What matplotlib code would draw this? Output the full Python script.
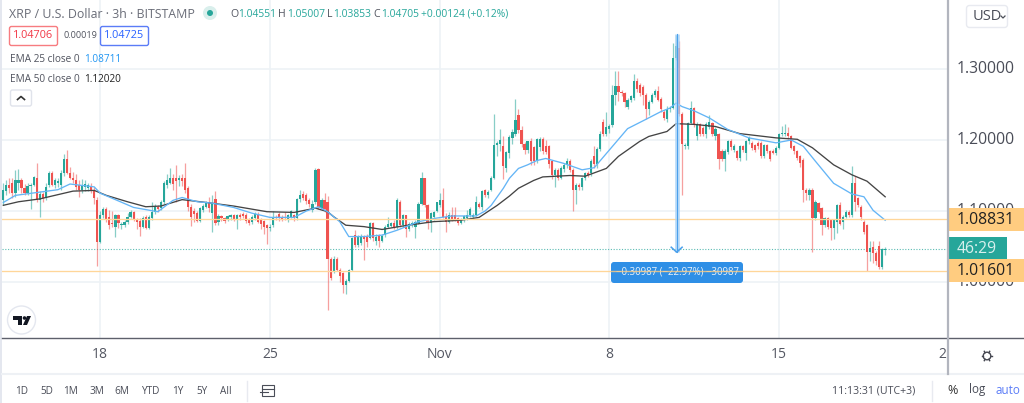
import matplotlib
matplotlib.use('Agg')
import matplotlib.pyplot as plt
from matplotlib.patches import FancyBboxPatch, Rectangle, Circle, Polygon
import numpy as np

plt.rcParams['font.family'] = ['Open Sans', 'DejaVu Sans']

# Velas de 3h
opens = [
    1.115,1.128,1.137,1.139,1.125,1.139,1.144,1.133,1.126,1.135,
    1.137,1.147,1.115,1.124,1.118,1.136,1.153,1.136,1.139,1.136,
    1.153,1.173,1.153,1.146,1.144,1.136,1.130,1.134,1.132,1.135,
    1.128,1.115,1.057,1.095,1.103,1.092,1.083,1.078,1.094,1.080,
    1.080,1.084,1.092,1.098,1.089,1.086,1.078,1.092,1.076,1.090,
    1.098,1.105,1.104,1.112,1.136,1.140,1.147,1.147,1.143,1.147,
    1.147,1.133,1.105,1.100,1.097,1.086,1.101,1.106,1.113,1.097,
    1.117,1.085,1.093,1.090,1.088,1.091,1.094,1.088,1.094,1.096,
    1.094,1.088,1.084,1.090,1.096,1.088,1.086,1.080,1.076,1.080,
    1.092,1.096,1.092,1.092,1.088,1.092,1.094,1.090,1.117,1.124,
    1.122,1.116,1.102,1.112,1.159,1.104,1.116,1.113,1.033,1.015,
    1.033,1.017,1.012,0.996,1.002,1.017,1.066,1.052,1.055,1.064,
    1.064,1.062,1.083,1.058,1.065,1.058,1.066,1.078,1.079,1.083,
    1.078,1.113,1.080,1.094,1.075,1.080,1.078,1.083,1.110,1.146,
    1.108,1.083,1.092,1.100,1.108,1.115,1.092,1.085,1.094,1.094,
    1.090,1.083,1.087,1.090,1.094,1.092,1.095,1.110,1.106,1.130,
    1.122,1.130,1.147,1.193,1.195,1.192,1.161,1.181,1.203,1.209,
    1.235,1.214,1.195,1.186,1.198,1.190,1.170,1.190,1.202,1.192,
    1.192,1.170,1.151,1.158,1.147,1.159,1.165,1.171,1.158,1.130,
    1.137,1.134,1.146,1.153,1.153,1.178,1.166,1.188,1.225,1.208,
    1.215,1.221,1.264,1.276,1.268,1.266,1.247,1.257,1.259,1.283,
    1.277,1.275,1.264,1.243,1.254,1.263,1.269,1.258,1.240,1.229,
    1.243,1.245,1.315,1.330,1.236,1.191,1.191,1.224,1.245,1.205,
    1.222,1.217,1.208,1.218,1.224,1.205,1.208,1.185,1.173,1.183,
    1.199,1.186,1.184,1.175,1.191,1.182,1.198,1.196,1.193,1.196,
    1.196,1.177,1.193,1.184,1.185,1.182,1.189,1.208,1.208,1.210,
    1.205,1.191,1.184,1.177,1.172,1.130,1.123,1.130,1.090,1.111,
    1.104,1.080,1.090,1.087,1.076,1.085,1.108,1.085,1.092,1.099,
    1.094,1.139,1.118,1.106,1.085,1.080,1.042,1.050,1.041,1.050,
    1.021,1.0455]
closes = [
    1.130,1.137,1.132,1.125,1.143,1.144,1.133,1.126,1.135,1.137,
    1.148,1.115,1.124,1.118,1.134,1.153,1.136,1.143,1.142,1.153,
    1.173,1.153,1.146,1.144,1.134,1.129,1.137,1.138,1.136,1.128,
    1.118,1.057,1.094,1.103,1.088,1.080,1.081,1.094,1.083,1.082,
    1.084,1.092,1.098,1.088,1.084,1.077,1.090,1.076,1.092,1.098,
    1.106,1.103,1.112,1.140,1.143,1.146,1.138,1.142,1.147,1.142,
    1.130,1.105,1.092,1.096,1.086,1.104,1.107,1.112,1.104,1.111,
    1.083,1.093,1.090,1.086,1.093,1.094,1.089,1.094,1.092,1.093,
    1.086,1.083,1.091,1.096,1.085,1.082,1.077,1.076,1.078,1.091,
    1.091,1.090,1.088,1.090,1.094,1.100,1.090,1.117,1.123,1.118,
    1.114,1.110,1.110,1.158,1.106,1.116,1.103,1.033,1.005,1.033,
    1.017,1.008,0.996,1.002,1.017,1.062,1.052,1.064,1.065,1.060,
    1.057,1.083,1.062,1.064,1.058,1.065,1.078,1.082,1.083,1.077,
    1.116,1.080,1.094,1.075,1.082,1.083,1.085,1.110,1.146,1.108,
    1.083,1.097,1.098,1.112,1.115,1.092,1.085,1.094,1.088,1.088,
    1.083,1.088,1.093,1.095,1.103,1.095,1.112,1.106,1.128,1.122,
    1.127,1.147,1.193,1.196,1.200,1.163,1.183,1.204,1.211,1.228,
    1.214,1.195,1.186,1.198,1.170,1.170,1.202,1.202,1.185,1.183,
    1.166,1.151,1.158,1.147,1.161,1.165,1.171,1.158,1.130,1.137,
    1.134,1.146,1.153,1.151,1.171,1.166,1.188,1.209,1.208,1.218,
    1.220,1.263,1.276,1.268,1.266,1.254,1.257,1.262,1.283,1.272,
    1.266,1.264,1.243,1.254,1.264,1.269,1.257,1.243,1.231,1.243,
    1.245,1.315,1.332,1.236,1.194,1.193,1.224,1.245,1.222,1.222,
    1.208,1.208,1.222,1.225,1.208,1.216,1.173,1.173,1.185,1.198,
    1.190,1.192,1.175,1.191,1.186,1.198,1.203,1.189,1.186,1.191,
    1.177,1.193,1.184,1.173,1.182,1.189,1.208,1.210,1.210,1.205,
    1.189,1.184,1.175,1.168,1.130,1.125,1.130,1.090,1.113,1.099,
    1.080,1.090,1.078,1.076,1.087,1.108,1.082,1.092,1.099,1.094,
    1.139,1.113,1.108,1.092,1.071,1.042,1.048,1.041,1.030,1.021,
    1.046,1.047]
highs = [
    1.139,1.143,1.146,1.146,1.158,1.159,1.146,1.138,1.140,1.139,
    1.150,1.167,1.128,1.127,1.140,1.156,1.156,1.146,1.147,1.158,
    1.180,1.186,1.162,1.155,1.152,1.143,1.145,1.143,1.140,1.140,
    1.134,1.120,1.100,1.106,1.106,1.102,1.100,1.096,1.096,1.084,
    1.088,1.097,1.102,1.100,1.090,1.090,1.093,1.094,1.094,1.112,
    1.110,1.108,1.116,1.142,1.152,1.160,1.152,1.165,1.151,1.152,
    1.167,1.135,1.110,1.104,1.100,1.106,1.110,1.114,1.120,1.122,
    1.128,1.096,1.095,1.092,1.095,1.096,1.096,1.096,1.097,1.098,
    1.097,1.090,1.094,1.098,1.098,1.090,1.088,1.082,1.082,1.100,
    1.095,1.098,1.094,1.098,1.096,1.102,1.096,1.119,1.130,1.128,
    1.125,1.119,1.115,1.160,1.160,1.118,1.125,1.121,1.035,1.036,
    1.035,1.020,1.014,1.004,1.018,1.064,1.073,1.066,1.068,1.066,
    1.067,1.085,1.085,1.067,1.067,1.067,1.080,1.091,1.085,1.087,
    1.118,1.115,1.096,1.095,1.084,1.086,1.088,1.113,1.155,1.147,
    1.110,1.099,1.100,1.113,1.126,1.132,1.097,1.098,1.105,1.105,
    1.092,1.090,1.095,1.102,1.105,1.097,1.121,1.112,1.130,1.131,
    1.129,1.149,1.236,1.198,1.215,1.205,1.185,1.207,1.216,1.258,
    1.243,1.220,1.197,1.199,1.203,1.192,1.203,1.204,1.204,1.200,
    1.193,1.172,1.160,1.160,1.163,1.168,1.174,1.173,1.160,1.139,
    1.139,1.148,1.155,1.156,1.173,1.192,1.190,1.212,1.230,1.240,
    1.222,1.278,1.297,1.297,1.270,1.268,1.259,1.264,1.293,1.288,
    1.280,1.277,1.266,1.256,1.266,1.272,1.276,1.260,1.242,1.248,
    1.248,1.337,1.348,1.340,1.240,1.196,1.226,1.255,1.247,1.225,
    1.224,1.220,1.226,1.235,1.226,1.218,1.210,1.187,1.187,1.200,
    1.201,1.194,1.186,1.193,1.193,1.200,1.206,1.198,1.195,1.198,
    1.198,1.195,1.195,1.186,1.187,1.191,1.210,1.220,1.222,1.219,
    1.207,1.193,1.186,1.179,1.174,1.132,1.133,1.132,1.115,1.113,
    1.106,1.092,1.092,1.089,1.089,1.110,1.113,1.094,1.101,1.101,
    1.163,1.149,1.120,1.108,1.087,1.082,1.058,1.058,1.043,1.058,
    1.048,1.050]
lows = [
    1.108,1.122,1.125,1.118,1.120,1.130,1.125,1.122,1.122,1.103,
    1.135,1.113,1.092,1.112,1.116,1.134,1.135,1.133,1.134,1.130,
    1.150,1.152,1.145,1.140,1.130,1.120,1.126,1.128,1.128,1.125,
    1.110,1.022,1.055,1.090,1.084,1.074,1.077,1.064,1.076,1.075,
    1.078,1.082,1.090,1.086,1.075,1.065,1.076,1.074,1.074,1.088,
    1.096,1.098,1.102,1.110,1.133,1.138,1.130,1.112,1.135,1.135,
    1.125,1.100,1.079,1.085,1.084,1.084,1.098,1.104,1.098,1.071,
    1.080,1.080,1.086,1.083,1.086,1.088,1.086,1.075,1.088,1.090,
    1.083,1.080,1.082,1.088,1.083,1.074,1.068,1.054,1.072,1.078,
    1.088,1.086,1.086,1.088,1.085,1.090,1.086,1.088,1.113,1.116,
    1.110,1.106,1.098,1.110,1.103,1.102,1.098,0.961,1.003,1.012,
    1.015,1.000,0.985,0.983,1.000,1.015,1.050,1.050,1.052,1.031,
    1.050,1.060,1.058,1.052,1.050,1.056,1.064,1.076,1.077,1.074,
    1.075,1.078,1.078,1.064,1.072,1.078,1.062,1.081,1.108,1.105,
    1.075,1.070,1.088,1.098,1.105,1.090,1.071,1.083,1.086,1.086,
    1.080,1.081,1.085,1.088,1.092,1.090,1.093,1.104,1.102,1.120,
    1.118,1.128,1.145,1.178,1.185,1.145,1.155,1.175,1.195,1.205,
    1.210,1.190,1.180,1.182,1.165,1.165,1.168,1.185,1.180,1.180,
    1.160,1.145,1.134,1.143,1.145,1.155,1.160,1.155,1.100,1.110,
    1.130,1.130,1.144,1.148,1.150,1.160,1.160,1.185,1.205,1.205,
    1.210,1.218,1.250,1.255,1.262,1.247,1.243,1.254,1.256,1.268,
    1.262,1.250,1.229,1.235,1.252,1.261,1.255,1.240,1.228,1.226,
    1.240,1.243,1.312,1.234,1.122,1.188,1.188,1.222,1.218,1.200,
    1.205,1.205,1.203,1.215,1.205,1.200,1.159,1.170,1.156,1.180,
    1.186,1.183,1.172,1.171,1.183,1.172,1.195,1.186,1.183,1.188,
    1.174,1.175,1.181,1.170,1.180,1.179,1.187,1.205,1.205,1.202,
    1.187,1.180,1.172,1.162,1.113,1.115,1.115,1.042,1.088,1.097,
    1.066,1.078,1.074,1.059,1.060,1.069,1.080,1.075,1.090,1.092,
    1.092,1.100,1.105,1.088,1.067,1.016,1.030,1.027,1.024,1.019,
    1.018,1.0385]

# Medias moviles, leidas cada pocas velas
ema25_bars = [0,4,11,18,22,30,32,37,43,51,56,59,64,69,76,82,88,96,100,104,107,111,114,119,125,
              130,137,143,148,156,159,161,165,167,170,173,176,179,185,191,195,200,206,212,217,220,222,224,
              228,233,239,246,255,260,264,268,274,280,284,287,291]
ema25_vals = [1.112,1.122,1.126,1.130,1.138,1.134,1.125,1.116,1.105,1.099,1.115,1.119,1.113,1.111,1.105,
              1.097,1.091,1.091,1.100,1.106,1.099,1.085,1.064,1.064,1.066,1.073,1.085,1.090,1.093,1.093,
              1.100,1.108,1.132,1.146,1.160,1.165,1.171,1.174,1.167,1.158,1.161,1.186,1.216,1.229,1.240,1.245,1.252,1.247,
              1.241,1.231,1.215,1.203,1.196,1.200,1.191,1.170,1.139,1.124,1.120,1.101,1.087]
ema50_bars = [0,5,12,19,23,30,34,41,47,52,59,67,76,87,96,103,107,109,113,119,125,132,142,151,157,
              163,167,170,175,178,187,192,199,203,210,213,219,222,228,235,243,255,262,267,274,280,285,291]
ema50_vals = [1.108,1.113,1.117,1.124,1.128,1.129,1.122,1.113,1.106,1.107,1.116,1.112,1.107,1.099,1.098,
              1.104,1.099,1.092,1.080,1.078,1.074,1.079,1.085,1.087,1.091,1.108,1.121,1.132,1.143,1.148,1.150,1.149,
              1.160,1.177,1.198,1.205,1.212,1.223,1.222,1.219,1.209,1.203,1.201,1.189,1.165,1.151,1.142,1.120]

price_ticks = [1.0, 1.1, 1.2, 1.3]
price_labels = ['1.00000', '1.10000', '1.20000', '1.30000']
date_bars = [32, 88, 144, 200, 256]
date_labels = ['18', '25', 'Nov', '8', '15']
range_labels = ['1D', '5D', '1M', '3M', '6M', 'YTD', '1Y', '5Y', 'All']
range_x = [22, 46.5, 71, 96.5, 122, 150, 178, 202, 226]
line_up = 1.08831
line_down = 1.01601
last_close = 1.04705
measure_top = 1.349
measure_bottom = 1.042

GREEN = '#26a69a'
RED = '#ef5350'
GREY = '#50535e'
ORANGE = '#ffd699'
GRID = '#edf2f6'
BLUE = '#64b5f6'

W, H = 1024, 403
fig = plt.figure(figsize=(W / 100, H / 100), dpi=100, facecolor='white')

# Panel principal: 3.03 px por vela, 710 px por dolar
ax = fig.add_axes([2 / W, 1 - 338 / H, 945 / W, 338 / H])
ax.set_xlim(-0.43, 311.4)
ax.set_ylim(1 - 56 / 710, 1 + 282 / 710)
ax.axis('off')

for t in price_ticks:
    ax.axhline(t, color=GRID, lw=1.2, zorder=1)
for b in date_bars:
    ax.axvline(b, color=GRID, lw=1.2, zorder=1)

ax.axhline(last_close, color=GREEN, lw=0.8, ls=(0, (1, 1.5)), alpha=0.75, zorder=2)

x = np.arange(len(closes))
o = np.array(opens)
c = np.array(closes)
up = c >= o
colors = np.where(up, GREEN, RED)
ax.vlines(x, lows, highs, colors=colors, lw=0.9, alpha=0.55, zorder=3)
ax.bar(x, np.abs(c - o), bottom=np.minimum(o, c), width=0.72, color=colors, lw=0, zorder=4)

ax.plot(ema50_bars, ema50_vals, color='#444444', lw=0.95, zorder=5)
ax.plot(ema25_bars, ema25_vals, color=BLUE, lw=0.95, zorder=5)

ax.axhline(line_up, color=ORANGE, lw=0.95, zorder=6)
ax.axhline(line_down, color=ORANGE, lw=0.95, zorder=6)

# Flecha de medicion
ax.plot([222.2, 222.2], [measure_top, measure_bottom], color='#a9d3f7', lw=3.4, alpha=0.8, solid_capstyle='butt', zorder=7)
ax.plot([222.2, 222.2], [measure_top, measure_bottom], color='#4aa0ec', lw=0.8, zorder=7)
ax.plot([220.4, 222.2, 224.0], [measure_bottom + 0.007, measure_bottom, measure_bottom + 0.007], color='#4aa0ec', lw=1.1, zorder=7)

# Capa en pixeles para la interfaz
ui = fig.add_axes([0, 0, 1, 1], facecolor='none')
ui.set_xlim(0, W)
ui.set_ylim(H, 0)
ui.axis('off')


def label(px, py, s, color=GREY, size=9, ha='left', zorder=5):
    ui.text(px, py, s, color=color, fontsize=size, ha=ha, va='center', zorder=zorder)


def box(x0, y0, w, h, fc='white', ec='none', lw=1, r=2, zorder=4):
    ui.add_patch(FancyBboxPatch((x0 + r, y0 + r), w - 2 * r, h - 2 * r, boxstyle=f'round,pad={r},rounding_size={r}',
                                fc=fc, ec=ec, lw=lw, zorder=zorder))


# Bordes y paneles
ui.add_patch(Rectangle((948, 0), 76, 338, fc='white', ec='none', zorder=1))
ui.add_patch(Rectangle((0, 0), 2, H, fc='#e4e7ef', ec='none', zorder=1))
ui.plot([2, 1024], [338, 338], color='#5d606b', lw=1, zorder=2)
ui.plot([2, 1024], [374, 374], color='#eef1f5', lw=1.5, zorder=2)
ui.plot([947.5, 947.5], [0, 374], color='#b2b5be', lw=1.6, zorder=8)

# Encabezado
label(9, 14, 'XRP / U.S. Dollar · 3h · BITSTAMP', color='#6a6d78', size=8.9)
ui.add_patch(Circle((210, 13), 7, fc='#d9efec', ec='none'))
ui.add_patch(Circle((210, 13), 3, fc=GREEN, ec='none'))
for px, s in [(230, 'O'), (278, 'H'), (327, 'L'), (373, 'C')]:
    label(px, 14.5, s, size=7.6)
for px, s in [(238, '1.04551'), (287, '1.05007'), (333, '1.03853'), (381, '1.04705'), (421, '+0.00124 (+0.12%)')]:
    label(px, 14.5, s, color=GREEN, size=7.4)

box(9.5, 26.5, 48, 19, ec='#f77c80')
label(33.5, 36, '1.04706', color='#f23645', size=7.8, ha='center')
label(64, 36, '0.00019', size=6.5)
box(100.5, 26.5, 48, 19, ec='#5b7cf7')
label(124.5, 36, '1.04725', color='#2962ff', size=7.8, ha='center')
label(10, 59, 'EMA 25 close 0', size=7.2)
label(84, 59, '1.08711', color='#2196f3', size=7.2)
label(10, 79, 'EMA 50 close 0', size=7.2)
label(84, 79, '1.12020', color='#222222', size=7.2)
box(10.5, 90, 21, 16, ec='#e0e3eb')
ui.plot([17.5, 21, 24.5], [99.5, 96.5, 99.5], color='#333333', lw=1.2, zorder=5)

# Logo
ui.add_patch(Circle((21.5, 320), 14, fc='white', ec='#e4e7ef', lw=1, zorder=3))
ui.add_patch(Polygon([[13, 316], [22, 316], [22, 325], [18, 325], [18, 319.5], [13, 319.5]], fc='#131722', ec='none', zorder=4))
ui.add_patch(Circle((24.5, 318), 1.8, fc='#131722', ec='none', zorder=4))
ui.add_patch(Polygon([[27, 316], [31, 316], [27, 325], [23, 325]], fc='#131722', ec='none', zorder=4))

# Eje de precios: las cajas tapan 1.00000 y 1.10000 como en la captura
for t, s in zip(price_ticks, price_labels):
    py = 282 - (t - 1) * 710
    label(986, py, s, color='#4a4d58', size=11.3, ha='center', zorder=3)

box(966.5, 5.5, 41, 22, ec='#e8eaf0', r=3)
label(973, 17, 'USD', color='#4a4d58', size=10.5)
ui.plot([1001, 1003, 1005], [16, 18, 16], color='#4a4d58', lw=0.9, zorder=5)

ui.add_patch(Rectangle((948, 208), 76, 23, fc='#ffcc80', ec='none', zorder=4))
label(986, 220, '1.08831', color='#222222', size=11.3, ha='center')
ui.add_patch(Rectangle((948, 237), 59, 23, fc=GREEN, ec='none', zorder=4))
label(977, 249, '46:29', color='#d8f0ed', size=11.3, ha='center')
ui.add_patch(Rectangle((948, 259), 76, 23, fc='#ffcc80', ec='none', zorder=4))
label(986, 271, '1.01601', color='#222222', size=11.3, ha='center')

box(611, 262, 132, 21, fc='#2f8fe6', r=3)
label(677, 271.5, '−0.30987 (−22.97%) −30987', color='#e8f3fd', size=6.9, ha='center')
ui.plot([611, 743], [270.6, 270.6], color='#ffcc80', lw=1, alpha=0.8, zorder=6)

# Eje de fechas
for b, s in zip(date_bars, date_labels):
    label(3.3 + 3.03 * b, 354, s, color='#555863', size=10, ha='center')
label(946, 354, '2', color='#555863', size=10, ha='right')

# Engranaje
ui.add_patch(Circle((987, 356), 3.8, fc='none', ec='#444650', lw=1))
for a in np.arange(0, 360, 60):
    r = np.radians(a)
    ui.plot([987 + 3.8 * np.cos(r), 987 + 5.4 * np.cos(r)], [356 + 3.8 * np.sin(r), 356 + 5.4 * np.sin(r)], color='#444650', lw=1)

# Barra inferior
for px, s in zip(range_x, range_labels):
    label(px, 391, s, color='#4a4d58', size=7.2, ha='center')
ui.plot([247, 247], [381, 401], color='#e8eaf0', lw=1)
ui.add_patch(Rectangle((262, 385), 12, 11, fc='none', ec='#4a4d58', lw=0.8))
ui.plot([262, 274], [388.5, 388.5], color='#4a4d58', lw=0.8)
ui.plot([260, 268], [392, 392], color='#4a4d58', lw=0.8)

label(832, 391, '11:13:31 (UTC+3)', color='#4a4d58', size=7.6)
ui.plot([932, 932], [381, 401], color='#e8eaf0', lw=1)
label(947, 390, '%', color='#333333', size=9)
label(969, 390, 'log', color='#4a4d58', size=8.4)
label(996, 390, 'auto', color='#5b7cf7', size=8.4)

fig.savefig('out.png', dpi=100)
